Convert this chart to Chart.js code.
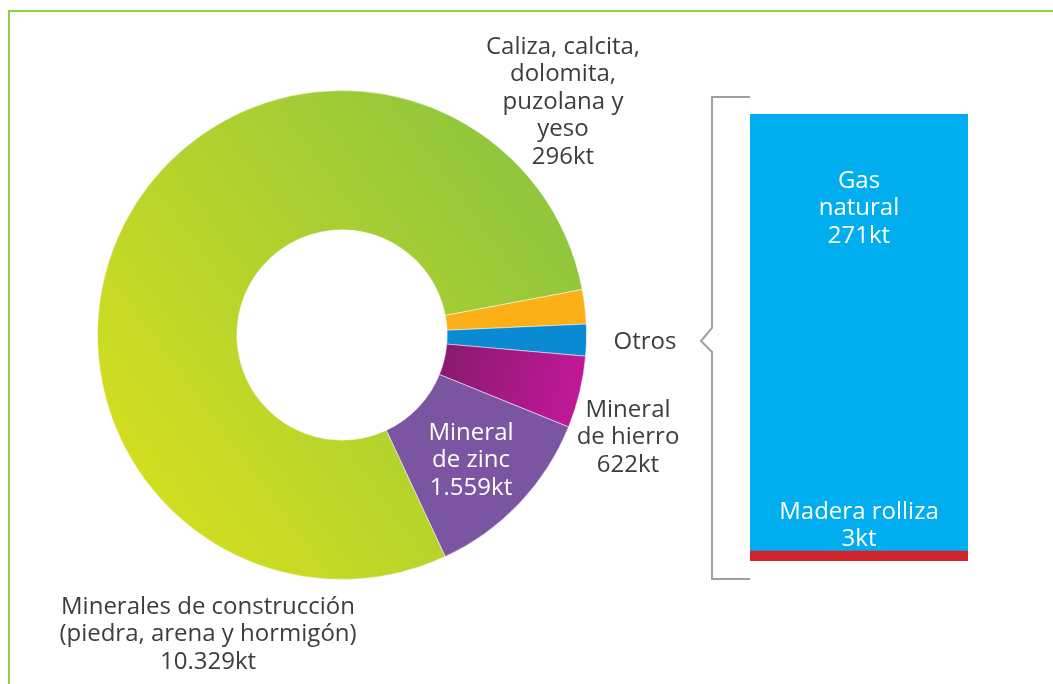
<!DOCTYPE html>
<html>
<head>
<meta charset="utf-8">
<script src="https://cdn.jsdelivr.net/npm/chart.js@4.4.0/dist/chart.umd.min.js"></script>
<style>
  html, body { margin: 0; padding: 0; background: #fff; }
  #marco { position: absolute; left: 8px; top: 10px; width: 1045px; height: 674px;
           border-top: 2px solid #8dd14a; border-left: 2px solid #8dd14a; }
  #cdona { position: absolute; left: 0; top: 0; }
  #cbarra { position: absolute; left: 690px; top: 90px; }
</style>
</head>
<body>
<div id="marco"></div>
<canvas id="cdona" width="1053" height="684"></canvas>
<canvas id="cbarra" width="290" height="500"></canvas>
<script>
// Datos del gráfico
const categorias = ['Minerales de construcción', 'Caliza, calcita, dolomita, puzolana y yeso', 'Otros', 'Mineral de hierro', 'Mineral de zinc'];
const valores = [10329, 296, 274, 622, 1559];
const etiquetas = [
    ['Minerales de construcción', '(piedra, arena y hormigón)', '10.329kt'],
    ['Caliza, calcita,', 'dolomita,', 'puzolana y', 'yeso', '296kt'],
    ['Otros'],
    ['Mineral', 'de hierro', '622kt'],
    ['Mineral', 'de zinc', '1.559kt']
];
const otrosCategorias = ['Madera rolliza', 'Gas natural'];
const otrosValores = [3, 271];
const otrosEtiquetas = [['Madera rolliza', '3kt'], ['Gas', 'natural', '271kt']];

const fuente = '24px "Open Sans", "Noto Sans", sans-serif';
const gris = '#3d3d3d';
const interlinea = 27.5;

function lineas(ctx, textos, x, y, color) {
    ctx.save();
    ctx.font = fuente;
    ctx.fillStyle = color;
    ctx.textAlign = 'center';
    ctx.textBaseline = 'middle';
    textos.forEach((t, i) => ctx.fillText(t, x, y + i * interlinea));
    ctx.restore();
}

// Colores de la dona (dos con degradado)
function colorSegmento(c) {
    const chart = c.chart;
    if (!chart.chartArea) return '#ccc';
    const g = chart.ctx;
    if (c.dataIndex === 0) {
        const grad = g.createLinearGradient(130, 520, 580, 190);
        grad.addColorStop(0, '#d6df1e');
        grad.addColorStop(1, '#8cc43f');
        return grad;
    }
    if (c.dataIndex === 3) {
        const grad = g.createLinearGradient(445, 370, 585, 400);
        grad.addColorStop(0, '#8a1a6f');
        grad.addColorStop(1, '#c4189b');
        return grad;
    }
    return ['', '#fbb017', '#0a8ad2', '', '#7b54a2'][c.dataIndex];
}

// Textos de la dona
const textosDona = {
    id: 'textosDona',
    afterDraw(chart) {
        const ctx = chart.ctx;
        lineas(ctx, etiquetas[0], 208, 607, gris);
        lineas(ctx, etiquetas[1], 563, 47, gris);
        lineas(ctx, etiquetas[2], 645, 342, gris);
        lineas(ctx, etiquetas[3], 628, 410, gris);
        lineas(ctx, etiquetas[4], 471, 433, '#ffffff');
    }
};

let dona = new Chart(document.getElementById('cdona').getContext('2d'), {
    type: 'doughnut',
    data: {
        labels: categorias,
        datasets: [{
            data: valores,
            backgroundColor: colorSegmento,
            borderWidth: 1,
            borderColor: 'rgba(255,255,255,0.5)',
            hoverOffset: 0
        }]
    },
    options: {
        responsive: false,
        animation: false,
        rotation: 155,
        cutout: '43%',
        layout: { padding: { left: 97, top: 88, right: 466, bottom: 102 } },
        plugins: {
            legend: { display: false },
            tooltip: { enabled: false }
        }
    },
    plugins: [textosDona]
});

// Llave y textos de la barra "Otros"
const textosBarra = {
    id: 'textosBarra',
    afterDraw(chart) {
        const ctx = chart.ctx;
        const area = chart.chartArea;
        // llave
        ctx.save();
        ctx.strokeStyle = '#a0a0a0';
        ctx.lineWidth = 2;
        ctx.beginPath();
        ctx.moveTo(area.left, 7);
        ctx.lineTo(22, 7);
        ctx.lineTo(22, 238);
        ctx.lineTo(11, 251);
        ctx.lineTo(22, 262);
        ctx.lineTo(22, 489);
        ctx.lineTo(area.left, 489);
        ctx.stroke();
        ctx.restore();

        const azul = chart.getDatasetMeta(1).data[0];
        const rojo = chart.getDatasetMeta(0).data[0];
        lineas(ctx, otrosEtiquetas[1], azul.x, azul.y + 72, '#ffffff');
        lineas(ctx, otrosEtiquetas[0], rojo.x, area.bottom - 49, '#ffffff');
    }
};

let barra = new Chart(document.getElementById('cbarra').getContext('2d'), {
    type: 'bar',
    data: {
        labels: ['Otros'],
        datasets: [{
            label: otrosCategorias[0],
            data: [otrosValores[0]],
            backgroundColor: '#d2232a',
            minBarLength: 10
        }, {
            label: otrosCategorias[1],
            data: [otrosValores[1]],
            backgroundColor: '#00aeef'
        }]
    },
    options: {
        responsive: false,
        animation: false,
        layout: { padding: { left: 60, top: 24, right: 12, bottom: 29 } },
        datasets: { bar: { barPercentage: 1, categoryPercentage: 1, borderWidth: 0 } },
        scales: {
            x: { stacked: true, display: false },
            y: { stacked: true, display: false, min: 0, max: otrosValores[0] + otrosValores[1] }
        },
        plugins: {
            legend: { display: false },
            tooltip: { enabled: false }
        }
    },
    plugins: [textosBarra]
});
</script>
</body>
</html>
